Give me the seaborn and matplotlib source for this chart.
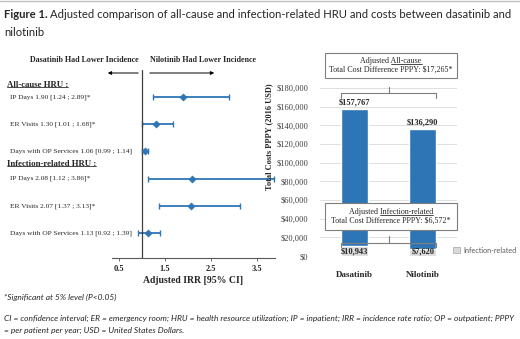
import matplotlib
matplotlib.use('Agg')
import matplotlib.pyplot as plt
import seaborn as sns
import pandas as pd
from matplotlib import transforms
from matplotlib.lines import Line2D
from matplotlib.patches import Rectangle, Patch, FancyArrowPatch

sns.set_theme(style='white')
plt.rcParams['font.family'] = ['Liberation Serif', 'DejaVu Sans']

# --- data ---
hru_groups = ["All-cause HRU :", "Infection-related HRU :"]
hru_measures = ["IP Days", "ER Visits", "Days with OP Services"] * 2
irr = [1.90, 1.30, 1.06, 2.08, 2.07, 1.13]
ci_low = [1.24, 1.01, 0.99, 1.12, 1.37, 0.92]
ci_high = [2.89, 1.68, 1.14, 3.86, 3.13, 1.39]
significant = [True, True, False, True, True, False]
irr_ticks = [0.5, 1.5, 2.5, 3.5]

drugs = ["Dasatinib", "Nilotinib"]
total_cost = [157767, 136290]
infection_cost = [10943, 7620]
cost_diff_all = 17265
cost_diff_inf = 6572
cost_ticks = list(range(0, 180001, 20000))

BLUE = '#2E75B6'
GRAY = '#D9D9D9'
SANS = ['Lato', 'DejaVu Sans']

W, H = 520, 339
fig = plt.figure(figsize=(W / 100, H / 100), dpi=100)


def rect(x0, y0, x1, y1):
    # pixel box (top-left origin) -> figure fraction rect
    return [x0 / W, 1 - y1 / H, (x1 - x0) / W, (y1 - y0) / H]


def fx(x):
    return x / W


def fy(y):
    return 1 - y / H


# thin rule at the very top
fig.add_artist(Line2D([0, 1], [fy(1), fy(1)], color='#BFBFBF', lw=1))

# --- title ---
TS = 8.1
t1 = fig.text(fx(4), fy(15), "Figure 1.", fontsize=TS, fontweight='bold',
              family=SANS, va='center')
fig.canvas.draw()
r = fig.canvas.get_renderer()
bb = t1.get_window_extent(r)
fig.text(bb.x1 / W + 0.005, fy(15),
         "Adjusted comparison of all-cause and infection-related HRU and costs between dasatinib and",
         fontsize=TS, family=SANS, va='center')
fig.text(fx(4), fy(32), "nilotinib", fontsize=TS, family=SANS, va='center')

# --- forest plot ---
ax1 = fig.add_axes(rect(112, 70, 275, 258))
forest = pd.DataFrame({'measure': hru_measures, 'irr': irr, 'lo': ci_low,
                       'hi': ci_high, 'sig': significant})
forest['row'] = range(len(forest))
ax1.errorbar(forest['irr'], forest['row'],
             xerr=[forest['irr'] - forest['lo'], forest['hi'] - forest['irr']],
             fmt='none', ecolor=BLUE, elinewidth=1.3, capsize=2, capthick=1)
sns.scatterplot(data=forest, x='irr', y='row', marker='D', s=14, color=BLUE,
                edgecolor=BLUE, ax=ax1, zorder=3, legend=False)
ax1.axvline(1, color='#404040', lw=0.9)
ax1.set_xlim(0.348, 3.89)
ax1.set_ylim(5.92, -0.99)
ax1.set_yticks([])
ax1.set_ylabel('')
ax1.set_xticks(irr_ticks)
ax1.set_xticklabels([str(t) for t in irr_ticks], fontsize=6, fontweight='bold')
ax1.tick_params(axis='x', bottom=True, length=2, width=0.6, color='#595959', pad=3)
ax1.set_xlabel('Adjusted IRR [95% CI]', fontsize=7, fontweight='bold', labelpad=2)
for s in ['top', 'right', 'left']:
    ax1.spines[s].set_visible(False)
ax1.spines['bottom'].set_color('#595959')
ax1.spines['bottom'].set_linewidth(0.8)
ax1.set_facecolor('none')

lab_tf = transforms.blended_transform_factory(fig.transFigure, ax1.transData)
for _, row in forest.iterrows():
    star = '*' if row['sig'] else ''
    ax1.text(fx(10), row['row'],
             f"{row['measure']} {row['irr']:.2f} [{row['lo']:.2f} ; {row['hi']:.2f}]{star}",
             transform=lab_tf, fontsize=5.3, va='center', ha='left')
header_text = []
for g, yrow in zip(hru_groups, [-0.45, 2.45]):
    header_text.append(ax1.text(fx(7), yrow, g, transform=lab_tf, fontsize=6.3,
                                fontweight='bold', va='center', ha='left'))

fig.text(fx(84), fy(60), "Dasatinib Had Lower Incidence", fontsize=5.8,
         fontweight='bold', ha='center', va='center')
fig.text(fx(203), fy(60), "Nilotinib Had Lower Incidence", fontsize=5.8,
         fontweight='bold', ha='center', va='center')
arrow = dict(arrowstyle='-|>', color='black', lw=0.7, mutation_scale=5)
fig.add_artist(FancyArrowPatch((fx(141), fy(73)), (fx(105), fy(73)),
                               transform=fig.transFigure, **arrow))
fig.add_artist(FancyArrowPatch((fx(147), fy(73)), (fx(217), fy(73)),
                               transform=fig.transFigure, **arrow))

# --- cost bars ---
ax2 = fig.add_axes(rect(320, 88, 457, 256))
costs = pd.DataFrame({'drug': drugs, 'total': total_cost, 'infection': infection_cost})
bw = 0.39
sns.barplot(data=costs, x='drug', y='total', color=BLUE, width=bw, saturation=1, ax=ax2)
sns.barplot(data=costs, x='drug', y='infection', color=GRAY, width=bw, saturation=1,
            ax=ax2, label='Infection-related')
ax2.set_xlim(-0.5, 1.5)
ax2.set_ylim(0, 180000)
ax2.set_yticks(cost_ticks)
ax2.set_yticklabels([f"${v:,}" for v in cost_ticks], fontsize=6, color='#404040')
ax2.tick_params(axis='y', left=False, pad=2.5)
ax2.tick_params(axis='x', bottom=False, pad=5)
ax2.set_xticks(range(len(drugs)))
ax2.set_xticklabels(drugs, fontsize=6.5, fontweight='bold')
ax2.set_xlabel('')
ax2.set_ylabel('Total Costs PPPY (2016 USD)', fontsize=6, fontweight='bold')
ax2.yaxis.set_label_coords(-0.34, 0.71)
ax2.grid(axis='y', color=GRAY, lw=0.6)
ax2.set_axisbelow(True)
for s in ax2.spines.values():
    s.set_visible(False)

for i, (tot, inf) in enumerate(zip(total_cost, infection_cost)):
    ax2.text(i, tot + 3000, f"${tot:,}", ha='center', va='bottom', fontsize=6,
             fontweight='bold')
    ax2.annotate(f"${inf:,}", (i, 0), xytext=(0, 3), textcoords='offset points',
                 ha='center', va='center', fontsize=6, fontweight='bold')

ax2.legend(handles=[Patch(facecolor=GRAY, edgecolor='#A6A6A6', lw=0.5,
                          label='Infection-related')],
           loc='center left', bbox_to_anchor=(0.92, 0.035), frameon=False,
           prop={'family': SANS, 'size': 5.2}, labelcolor='#595959',
           handlelength=1.0, handleheight=1.0, handletextpad=0.5)


def bracket(y, up, down):
    x0, x1 = -bw / 2, len(drugs) - 1 + bw / 2
    kw = dict(color='#7F7F7F', lw=0.8, clip_on=False)
    ax2.plot([x0, x0, x1, x1], [y - down, y, y, y - down], **kw)
    ax2.plot([(x0 + x1) / 2] * 2, [y, y + up], **kw)


bracket(max(total_cost) + 17000, 6400, 5400)
bracket(max(infection_cost) + 3000, 8000, 4000)


def cost_box(y0, y1, kind, diff):
    x0, x1 = 325, 457
    fig.add_artist(Rectangle((fx(x0), fy(y1)), (x1 - x0) / W, (y1 - y0) / H,
                             transform=fig.transFigure, facecolor='white',
                             edgecolor='#7F7F7F', lw=0.8, zorder=4))
    cx = fx((x0 + x1) / 2)
    ym = (y0 + y1) / 2
    t = fig.text(cx, fy(ym - 4.5), f"Adjusted {kind}", fontsize=5.8, ha='center',
                 va='center', zorder=5)
    fig.text(cx, fy(ym + 4.5), f"Total Cost Difference PPPY: ${diff:,}*", fontsize=5.8,
             ha='center', va='center', zorder=5)
    return t


tb1 = cost_box(53, 78, "All-cause", cost_diff_all)
tb2 = cost_box(203, 230, "Infection-related", cost_diff_inf)

fig.canvas.draw()
r = fig.canvas.get_renderer()


def underline(txt, prefix=None):
    bb = txt.get_window_extent(r)
    x0 = bb.x0
    if prefix:
        tmp = fig.text(0, 0, prefix, fontsize=txt.get_fontsize(),
                       fontweight=txt.get_fontweight(), family=txt.get_family())
        x0 += tmp.get_window_extent(r).width
        tmp.remove()
    fig.add_artist(Line2D([x0 / W, bb.x1 / W], [(bb.y0 + 1.5) / H] * 2,
                          color='black', lw=0.5, zorder=6))


underline(tb1, "Adjusted ")
underline(tb2, "Adjusted ")
for h in header_text:
    underline(h)

# footnotes
FS = 6.0
fig.text(fx(4), fy(297), "*Significant at 5% level (P<0.05)", fontsize=FS,
         style='italic', family=SANS, va='center')
fig.text(fx(4), fy(318),
         "CI = confidence interval; ER = emergency room; HRU = health resource utilization; "
         "IP = inpatient; IRR = incidence rate ratio; OP = outpatient; PPPY",
         fontsize=FS, style='italic', family=SANS, va='center')
fig.text(fx(4), fy(330), "= per patient per year; USD = United States Dollars.",
         fontsize=FS, style='italic', family=SANS, va='center')

fig.savefig('out.png', dpi=100)
